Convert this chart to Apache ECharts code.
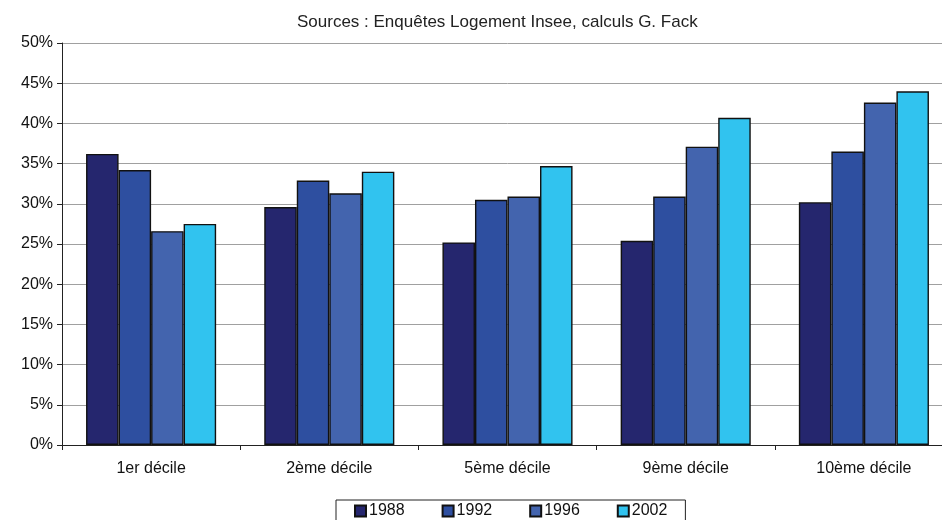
<!DOCTYPE html>
<html>
<head>
<meta charset="utf-8">
<script src="https://cdn.jsdelivr.net/npm/echarts@6/dist/echarts.min.js"></script>
<style>
  html, body { margin: 0; padding: 0; background: #fff; overflow: hidden; }
  /* plot runs a little past the right edge of the window, as in the source */
  #chart { width: 960px; height: 520px; }
</style>
</head>
<body>
<div id="chart"></div>
<script>
// categories and series (percent)
const categories = ['1er décile', '2ème décile', '5ème décile', '9ème décile', '10ème décile'];
const years = ['1988', '1992', '1996', '2002'];
const v1988 = [36.2, 29.6, 25.2, 25.4, 30.2];
const v1992 = [34.2, 32.9, 30.5, 30.9, 36.5];
const v1996 = [26.6, 31.3, 30.9, 37.1, 42.6];
const v2002 = [27.5, 34.0, 34.7, 40.7, 44.0];
const colors = ['#25266e', '#2e4fa0', '#4364ae', '#31c3ef'];

const chart = echarts.init(document.getElementById('chart'));
const font = 'Liberation Sans, Arial, sans-serif';

const seriesData = [v1988, v1992, v1996, v2002];

const option = {
  backgroundColor: '#fff',
  animation: false,
  textStyle: { fontFamily: font },
  title: {
    text: 'Sources : Enquêtes Logement Insee, calculs G. Fack',
    left: 292,
    top: 9,
    textStyle: { fontSize: 17, fontWeight: 'normal', color: '#222', fontFamily: font },
  },
  legend: {
    data: years,
    top: 500,
    left: 336,
    itemWidth: 11,
    itemHeight: 11,
    itemGap: 37,
    padding: [3, 18, 10, 18],
    borderColor: '#222',
    borderWidth: 1,
    icon: 'rect',
    textStyle: { fontSize: 16, color: '#111', fontFamily: font, padding: [0, 0, 0, -2] },
  },
  grid: {
    left: 62,
    top: 43,
    width: 891,
    height: 402,
  },
  xAxis: {
    type: 'category',
    data: categories,
    axisLine: { lineStyle: { color: '#222', width: 1 } },
    axisTick: { show: true, length: 5, lineStyle: { color: '#222' } },
    axisLabel: { fontSize: 16, color: '#111', margin: 16, fontFamily: font },
  },
  yAxis: {
    type: 'value',
    min: 0,
    max: 50,
    interval: 5,
    axisLine: { show: true, lineStyle: { color: '#222', width: 1 } },
    axisTick: { show: true, length: 5, lineStyle: { color: '#222' } },
    axisLabel: { fontSize: 16, color: '#111', margin: 9, formatter: '{value}%', fontFamily: font },
    splitLine: { lineStyle: { color: '#a0a0a0', width: 1 } },
  },
  series: years.map((y, i) => ({
    name: y,
    type: 'bar',
    data: seriesData[i],
    barGap: '0%',
    barCategoryGap: '27%',
    itemStyle: { color: colors[i], borderColor: '#111', borderWidth: 1.4 },
  })),
};

chart.setOption(option);
</script>
</body>
</html>
